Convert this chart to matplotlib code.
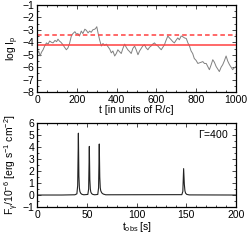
import matplotlib
matplotlib.use("Agg")
import matplotlib.pyplot as plt
from matplotlib.ticker import MultipleLocator

plt.rcParams['font.family'] = ['Liberation Sans', 'DejaVu Sans']
plt.rcParams['mathtext.default'] = 'regular'
plt.rcParams['font.size'] = 7.5

# --- top panel data: log I_p versus t ---
t_top = [0, 8, 15, 22, 30, 38, 47, 55, 63, 72, 80, 90, 98, 105, 112, 120, 130, 138,
         147, 155, 163, 172, 180, 190, 198, 205, 213, 222, 230, 240, 248, 256, 264,
         272, 280, 290, 296, 300, 307, 314, 323, 331, 340, 348, 356, 365, 373, 381,
         390, 398, 406, 414, 423, 431, 440, 448, 456, 465, 473, 481, 490, 498, 507,
         515, 523, 531, 540, 548, 557, 565, 573, 581, 590, 598, 607, 615, 624, 632,
         640, 648, 657, 665, 674, 682, 690, 698, 707, 715, 724, 732, 741, 750, 758,
         766, 774, 782, 790, 799, 808, 816, 825, 833, 841, 850, 858, 866, 875, 883,
         891, 900, 908, 916, 925, 933, 941, 950, 958, 967, 975, 983, 991, 1000]
logI = [-4.9, -4.7, -5.1, -4.8, -4.6, -4.3, -4.05, -4.15, -3.9, -4.0, -4.05, -3.85,
        -3.95, -3.75, -3.9, -4.0, -4.2, -4.4, -4.6, -4.45, -4.1, -3.5, -3.3, -3.15,
        -3.35, -3.3, -3.5, -3.1, -3.3, -2.95, -3.05, -3.25, -3.1, -3.2, -3.0, -2.95,
        -2.85, -2.75, -3.3, -3.8, -4.3, -4.1, -4.25, -4.15, -4.35, -4.55, -4.85, -4.7,
        -5.1, -4.9, -4.6, -4.75, -4.9, -4.5, -4.15, -4.4, -4.6, -4.75, -4.9, -4.5,
        -4.3, -4.6, -5.0, -4.7, -4.5, -4.3, -4.2, -4.45, -4.6, -4.4, -4.3, -4.15, -4.05,
        -4.2, -4.3, -4.45, -4.6, -4.4, -4.2, -3.85, -3.5, -3.65, -3.8, -3.95, -4.05,
        -3.85, -3.65, -3.8, -3.5, -3.55, -3.65, -3.7, -4.05, -4.3, -4.7, -4.9, -5.3,
        -5.45, -5.7, -5.65, -5.6, -5.55, -5.7, -5.7, -5.95, -6.2, -5.8, -5.4, -5.6,
        -5.95, -6.15, -6.35, -6.0, -5.8, -5.5, -5.1, -5.5, -5.8, -6.0, -6.2, -6.05, -5.95]
dashed_level = -3.4
solid_level = -4.2

# --- bottom panel data: F_gamma versus t_obs ---
t_bot = [0, 25, 38, 40.0, 40.8, 41.5, 42.0, 42.5, 43.0, 43.8, 45, 47,
         51.0, 51.8, 52.5, 53.0, 53.5, 54.0, 54.8, 56, 58,
         61.0, 61.8, 62.5, 63.0, 63.5, 64.0, 65.0, 66.5, 69,
         145.5, 146.5, 147.3, 148.0, 148.6, 149.3, 150.5, 153, 200]
flux = [0, 0, 0.02, 0.1, 0.8, 5.15, 1.6, 0.6, 0.3, 0.15, 0.06, 0.02,
        0.05, 0.5, 4.05, 1.3, 0.5, 0.25, 0.12, 0.05, 0.02,
        0.05, 0.6, 4.25, 1.5, 0.6, 0.35, 0.18, 0.08, 0.02,
        0.03, 0.3, 2.2, 0.9, 0.35, 0.15, 0.05, 0.01, 0]

fig = plt.figure(figsize=(2.49, 2.45), dpi=100)
ax1 = fig.add_axes([0.149, 0.624, 0.799, 0.356])
ax2 = fig.add_axes([0.149, 0.155, 0.799, 0.343])

ax1.plot(t_top, logI, color='#808080', lw=0.7)
ax1.axhline(dashed_level, color='#ff4040', lw=1.1, ls=(0, (3, 2)))
ax1.axhline(solid_level, color='#ff4040', lw=1.1)
ax1.set_xlim(0, 1000)
ax1.set_ylim(-8, -1)
ax1.xaxis.set_major_locator(MultipleLocator(200))
ax1.xaxis.set_minor_locator(MultipleLocator(50))
ax1.yaxis.set_major_locator(MultipleLocator(1))
ax1.yaxis.set_minor_locator(MultipleLocator(0.5))
ax1.set_xlabel('t [in units of R/c]', labelpad=0)
ax1.set_ylabel('log I$_p$', labelpad=1)

ax2.plot(t_bot, flux, color='#222222', lw=0.8)
ax2.set_xlim(0, 200)
ax2.set_ylim(-1, 6)
ax2.xaxis.set_major_locator(MultipleLocator(50))
ax2.xaxis.set_minor_locator(MultipleLocator(10))
ax2.yaxis.set_major_locator(MultipleLocator(1))
ax2.yaxis.set_minor_locator(MultipleLocator(0.5))
ax2.set_xlabel('t$_{obs}$ [s]', labelpad=0)
ax2.set_ylabel('F$_\\gamma$/10$^{-6}$ [erg s$^{-1}$ cm$^{-2}$]', labelpad=1)
ax2.text(177, 5.05, '$\\Gamma$=400', ha='center', va='center', fontsize=7.5)

for ax in (ax1, ax2):
    ax.tick_params(which='both', direction='in', top=True, right=True, pad=2,
                   width=0.5, labelsize=7.5)
    ax.tick_params(which='major', length=3)
    ax.tick_params(which='minor', length=1.5)
    for s in ax.spines.values():
        s.set_linewidth(0.9)

fig.savefig('out.png', dpi=100)
